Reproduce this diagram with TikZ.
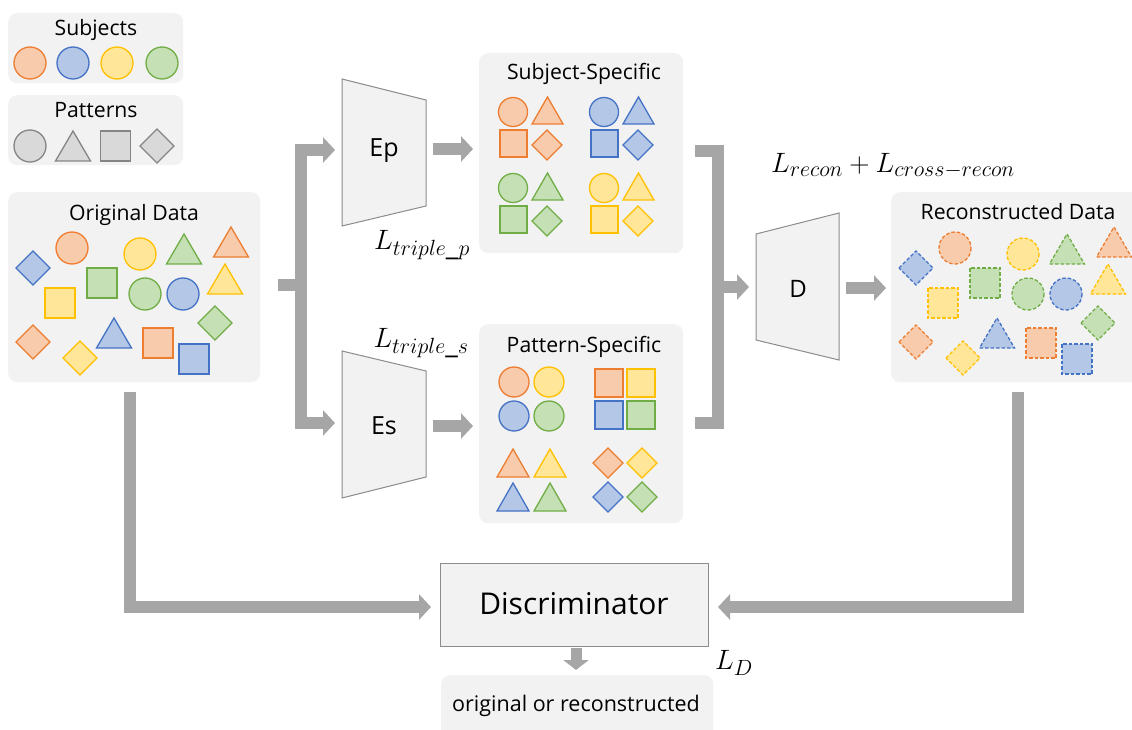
\RequirePackage{fix-cm}
\documentclass[tikz,border=0pt]{standalone}
\usepackage[no-math]{fontspec}
\setmainfont{Open Sans}
\usetikzlibrary{arrows.meta}
\DeclareMathSizes{28}{28}{22}{16}
\definecolor{orF}{HTML}{F8CBAD}\definecolor{orD}{HTML}{ED7D31}
\definecolor{blF}{HTML}{B4C7E7}\definecolor{blD}{HTML}{4472C4}
\definecolor{yeF}{HTML}{FFE699}\definecolor{yeD}{HTML}{FFC000}
\definecolor{grF}{HTML}{C5E0B4}\definecolor{grD}{HTML}{70AD47}
\definecolor{gyF}{HTML}{D9D9D9}\definecolor{gyD}{HTML}{858585}
\definecolor{boxF}{HTML}{F2F2F2}
\definecolor{arr}{HTML}{A6A6A6}
\definecolor{edge}{HTML}{8C8C8C}
\tikzset{
  or/.style={fill=orF,draw=orD,line width=1.3pt},
  bl/.style={fill=blF,draw=blD,line width=1.3pt},
  ye/.style={fill=yeF,draw=yeD,line width=1.3pt},
  gr/.style={fill=grF,draw=grD,line width=1.3pt},
  gy/.style={fill=gyF,draw=gyD,line width=1.3pt},
  panel/.style={fill=boxF,draw=none,rounded corners=9pt,inner sep=0pt,anchor=north west},
  trap/.style={fill=boxF,draw=edge,line width=1pt},
  ttl/.style={anchor=base,inner sep=0pt,font=\fontsize{21.2}{25}\selectfont},
  lbl/.style={anchor=base,inner sep=0pt},
  mth/.style={inner sep=0pt,font=\fontsize{28}{32}\selectfont},
  gline/.style={draw=arr,line width=12pt,line join=miter},
  garrow/.style={draw=arr,line width=12pt,line join=miter,-{Triangle[width=25pt,length=12pt]}},
}
\newcommand\shC[4]{\draw[#4] (#1,#2) circle[radius=#3];}
\newcommand\shS[4]{\draw[#4,shift={(#1,#2)}] (-#3/2,-#3/2) rectangle (#3/2,#3/2);}
\newcommand\shT[5]{\draw[#5,shift={(#1,#2)}] (-#3/2,0) -- (#3/2,0) -- (0,-#4) -- cycle;}
\newcommand\shD[4]{\draw[#4,shift={(#1,#2)}] (-#3,0) -- (0,-#3) -- (#3,0) -- (0,#3) -- cycle;}
\newcommand\sgroup[3]{%
  \shC{#1}{#2}{14.5}{#3}
  \shT{#1+34.5}{#2+12}{31}{27}{#3}
  \shS{#1+0.5}{#2+31.5}{27}{#3}
  \shD{#1+34}{#2+33}{15}{#3}}
\newcommand\datashapes[2]{%
  \begin{scope}[xshift=#1pt,every path/.append style={#2}]
  \shD{33}{268}{17}{bl}
  \shC{72}{248}{16}{or}
  \shC{140}{254}{16}{ye}
  \shT{184}{264}{35}{30}{gr}
  \shT{231}{257}{35}{30}{or}
  \shS{102}{283}{30}{gr}
  \shS{60}{303}{30}{ye}
  \shC{145}{294}{16}{gr}
  \shC{183}{294}{16}{bl}
  \shT{225}{294}{35}{30}{ye}
  \shD{215}{323}{17}{gr}
  \shD{33}{342}{17}{or}
  \shD{80}{358}{17}{ye}
  \shT{114}{348}{35}{30}{bl}
  \shS{158}{343}{30}{or}
  \shS{194}{359}{30}{bl}
  \end{scope}}
\begin{document}
\begin{tikzpicture}[x=1pt,y=-1pt]
\clip (0,0) rectangle (1132,730);
\fill[white] (0,0) rectangle (1132,730);

% legend
\node[panel,minimum width=175pt,minimum height=70pt] (subjbox) at (8,13) {};
\node[ttl] (subjt) at (96,36) {Subjects};
\shC{30}{63}{16}{or}\shC{73}{63}{16}{bl}\shC{117}{63}{16}{ye}\shC{162}{63}{16}{gr}
\node[panel,minimum width=175pt,minimum height=70pt] (patbox) at (8,95) {};
\node[ttl] (patt) at (96,118) {Patterns};
\shC{30}{146}{16}{gy}
\shT{73}{161}{35}{30}{gy}
\shS{115.5}{146}{30}{gy}
\shD{157}{146}{17}{gy}

% original data
\node[panel,minimum width=252pt,minimum height=190pt] (origbox) at (8,192) {};
\node[ttl] (origt) at (134,220) {Original Data};
\datashapes{0}{}

% encoders
\draw[trap] (342,79) -- (426,100) -- (426,206) -- (342,226) -- cycle;
\node[lbl,font=\fontsize{25}{30}\selectfont] (ep) at (384,157) {Ep};
\draw[trap] (342,351) -- (426,371) -- (426,477) -- (342,498) -- cycle;
\node[lbl,font=\fontsize{25}{30}\selectfont] (es) at (384,434) {Es};

% subject-specific
\node[panel,minimum width=204pt,minimum height=200pt] (ssbox) at (479,53) {};
\node[ttl] (sst) at (584,80) {Subject-Specific};
\sgroup{513}{112}{or}\sgroup{604}{112}{bl}\sgroup{513}{188}{gr}\sgroup{604}{188}{ye}

% pattern-specific
\node[panel,minimum width=204pt,minimum height=199pt] (psbox) at (479,324) {};
\node[ttl] (pst) at (584,352) {Pattern-Specific};
\shC{514}{382}{15}{or}\shC{549}{382}{15}{ye}\shC{514}{416}{15}{bl}\shC{549}{416}{15}{gr}
\shS{609}{383}{28}{or}\shS{641}{383}{28}{ye}\shS{609}{415}{28}{bl}\shS{641}{415}{28}{gr}
\shT{513}{477}{32}{28}{or}\shT{550}{477}{32}{28}{ye}\shT{513}{511}{32}{28}{bl}\shT{550}{511}{32}{28}{gr}
\shD{608}{463}{15}{or}\shD{642}{463}{15}{ye}\shD{608}{497}{15}{bl}\shD{642}{497}{15}{gr}

% decoder
\draw[trap] (756,234) -- (839,213) -- (839,360) -- (756,340) -- cycle;
\node[lbl,font=\fontsize{24}{29}\selectfont] (dec) at (798,297) {D};

% reconstructed
\node[panel,minimum width=252pt,minimum height=190pt] (recbox) at (891,192) {};
\node[ttl] (rect) at (1018,219) {Reconstructed Data};
\datashapes{883}{dash pattern=on 3.5pt off 2pt}

% discriminator
\node[draw=edge,fill=boxF,line width=1pt,minimum width=268pt,minimum height=83pt,inner sep=0pt,anchor=north west] (disc) at (440,563) {};
\node[lbl,font=\fontsize{30}{35}\selectfont] (disct) at (574,614) {Discriminator};
\node[panel,minimum width=272pt,minimum height=80pt] (outbox) at (441,675) {};
\node[lbl,font=\fontsize{21.5}{25}\selectfont] (outt) at (576,711) {original or reconstructed};

% math labels
\node[mth] (ltp) at (422,245) {$L_{triple\_p}$};
\node[mth] (lts) at (421,343) {$L_{triple\_s}$};
\node[mth] (lrc) at (893,166) {$L_{recon}+L_{cross-recon}$};
\node[mth] (ld) at (734,663) {$L_D$};

% connectors
\coordinate (lstub) at (278,285);
\coordinate (lsplit) at (301,285);
\coordinate (epin) at (335,150);
\coordinate (esin) at (335,423);
\draw[gline] (lstub) -- (lsplit);
\draw[garrow] (lsplit) |- (epin);
\draw[garrow] (lsplit) |- (esin);

\coordinate (epout) at (433,149);
\coordinate (ssin) at (473,149);
\draw[garrow] (epout) -- (ssin);
\coordinate (esout) at (433,426);
\coordinate (psin) at (473,426);
\draw[garrow] (esout) -- (psin);

\coordinate (rtop) at (695,151);
\coordinate (rbot) at (695,423);
\coordinate (rmid) at (717.5,287);
\coordinate (decin) at (749,287);
\draw[gline] (rtop) -- (717.5,151) -- (717.5,423) -- (rbot);
\draw[garrow] (rmid) -- (decin);

\coordinate (decout) at (846,288);
\coordinate (recin) at (886,288);
\draw[garrow] (decout) -- (recin);

\coordinate (origdown) at (129.5,392);
\coordinate (discl) at (431,607);
\draw[garrow] (origdown) |- (discl);
\coordinate (recdown) at (1018,392);
\coordinate (discr) at (718,607);
\draw[garrow] (recdown) |- (discr);

\coordinate (discout) at (576,648);
\coordinate (outin) at (576,670);
\draw[garrow,line width=11pt,-{Triangle[width=25pt,length=10pt]}] (discout) -- (outin);
\end{tikzpicture}
\end{document}
